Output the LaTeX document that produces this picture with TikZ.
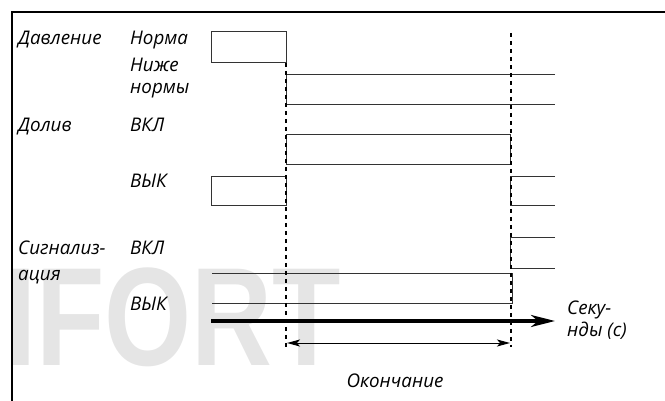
\documentclass[tikz,border=0pt]{standalone}
\usepackage{fontspec}
\setmainfont{Open Sans}
\newfontfamily\wmfont{Liberation Sans}
\usetikzlibrary{arrows.meta}
\begin{document}
\begin{tikzpicture}[x=1pt,y=-1pt,
  lbl/.style={font=\itshape\fontsize{18.8}{20}\selectfont, anchor=base west, inner sep=0pt},
  wm/.style={font=\wmfont\bfseries\fontsize{140}{140}\selectfont, text=black!10, anchor=base west, inner sep=0pt},
  sig/.style={line width=1pt, draw=black!80},
  cut/.style={line width=2pt, dash pattern=on 4pt off 4pt},
  frameline/.style={line width=2pt},
  timeaxis/.style={line width=3.2pt, -{Stealth[length=24pt,width=12pt,inset=7pt]}},
  dim/.style={line width=1pt, {Stealth[length=13pt,width=7pt,inset=3pt]}-{Stealth[length=13pt,width=7pt,inset=3pt]}}]
\useasboundingbox (0,0) rectangle (665,401);
% watermark
\node[wm] (wmark) at (5,365) {\scalebox{0.8}[1]{IFORT}};
% frame
\draw[frameline] (12,401) -- (12,12) -- (665,12);
% labels
\node[lbl] (p)  at (18,45)  {Давление};
\node[lbl] (pn) at (130,45) {Норма};
\node[lbl] (pl1) at (130,72) {Ниже};
\node[lbl] (pl2) at (130,94) {нормы};
\node[lbl] (d)  at (18,132) {Долив};
\node[lbl] (don) at (130,132) {ВКЛ};
\node[lbl] (doff) at (130,188) {ВЫК};
\node[lbl] (s1) at (18,255) {Сигнализ-};
\node[lbl] (s2) at (18,280) {ация};
\node[lbl] (son) at (130,255) {ВКЛ};
\node[lbl] (soff) at (130,310) {ВЫК};
\node[lbl] (t1) at (567,315) {Секу-};
\node[lbl] (t2) at (567,337) {нды (с)};
\node[lbl, anchor=base] (end) at (395,388) {Окончание};
% signals
\draw[sig] (211,32) rectangle (286,63);
\draw[sig] (555,75) -- (286,75) -- (286,105) -- (555,105);
\draw[sig] (286,135) rectangle (510,165);
\draw[sig] (211,177) rectangle (286,206);
\draw[sig] (555,177) -- (510,177) -- (510,206) -- (555,206);
\draw[sig] (555,238) -- (510,238) -- (510,269) -- (555,269);
\draw[sig] (212,274) -- (512,274) -- (512,304) -- (212,304);
% cut lines
\coordinate (c1t) at (286,63);
\coordinate (c1b) at (286,347);
\coordinate (c2t) at (511,33);
\coordinate (c2b) at (511,347);
\draw[cut] (c1t) -- (c1b);
\draw[cut] (c2t) -- (c2b);
% time axis
\coordinate (ta) at (211,321);
\coordinate (tb) at (555,321);
\draw[timeaxis] (ta) -- (tb);
% duration
\coordinate (da) at (287,343);
\coordinate (db) at (510,343);
\draw[dim] (da) -- (db);
\end{tikzpicture}
\end{document}
